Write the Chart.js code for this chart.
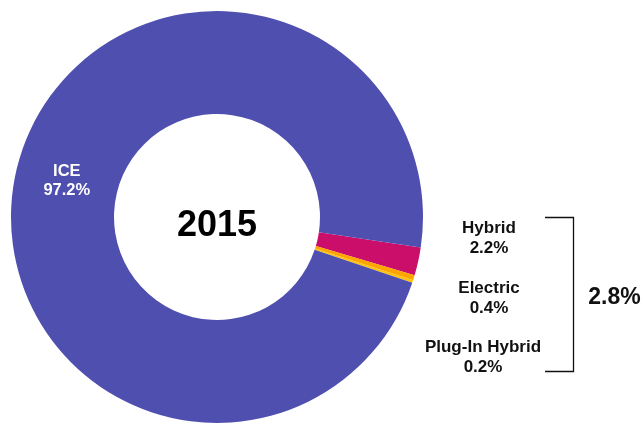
<!DOCTYPE html>
<html>
<head>
<meta charset="utf-8">
<script src="https://cdn.jsdelivr.net/npm/chart.js@4/dist/chart.umd.min.js"></script>
<style>
    html, body { margin: 0; padding: 0; background: #fff; }
    #wrap { width: 644px; height: 425px; }
</style>
</head>
<body>
<div id="wrap"><canvas id="donut" width="644" height="425"></canvas></div>
<script>
"use strict";

const categories = ["Hybrid", "Electric", "Plug-In Hybrid", "ICE"];
const shares = [2.2, 0.4, 0.2, 97.2];
const sliceColors = ["#cc0e6b", "#ffa500", "#ffc20e", "#4f4faf"];
const yearLabel = "2015";
const groupTotal = "2.8%";

function fmt(v) {
    return v.toFixed(1) + "%";
}

// draws the centre year, the slice labels and the bracket
const labelsPlugin = {
    id: "labels",
    afterDraw(chart) {
        const ctx = chart.ctx;
        const meta = chart.getDatasetMeta(0);
        ctx.save();
        ctx.textAlign = "center";
        ctx.textBaseline = "alphabetic";

        // year in the hole
        const c = meta.data[0];
        ctx.fillStyle = "#000";
        ctx.font = "bold 36px 'Liberation Sans', Arial, sans-serif";
        ctx.fillText(yearLabel, c.x, c.y + 19);

        // big slice label sits on the arc itself
        const big = meta.data[3];
        const p = big.tooltipPosition();
        ctx.fillStyle = "#fff";
        ctx.font = "bold 16.5px 'Liberation Sans', Arial, sans-serif";
        ctx.fillText(categories[3], p.x, p.y - 5);
        ctx.fillText(fmt(shares[3]), p.x, p.y + 14);

        // small slices listed to the right
        const xs = [489, 489, 483];
        const ys = [233, 292.5, 351.5];
        ctx.fillStyle = "#111";
        ctx.font = "bold 17px 'Liberation Sans', Arial, sans-serif";
        for (let i = 0; i < 3; i++) {
            ctx.fillText(categories[i], xs[i], ys[i]);
            ctx.fillText(fmt(shares[i]), xs[i], ys[i] + 20);
        }

        // bracket
        ctx.strokeStyle = "#111";
        ctx.lineWidth = 1.3;
        ctx.beginPath();
        ctx.moveTo(545, 217.5);
        ctx.lineTo(573.5, 217.5);
        ctx.lineTo(573.5, 371.5);
        ctx.lineTo(545, 371.5);
        ctx.stroke();

        ctx.fillStyle = "#111";
        ctx.font = "bold 23px 'Liberation Sans', Arial, sans-serif";
        ctx.fillText(groupTotal, 614.5, 304);
        ctx.restore();
    }
};

new Chart(document.getElementById("donut"), {
    type: "doughnut",
    data: {
        labels: categories,
        datasets: [{
            data: shares,
            backgroundColor: sliceColors,
            borderWidth: 0
        }]
    },
    options: {
        responsive: false,
        animation: false,
        rotation: 98.5,
        cutout: "50%",
        layout: {
            padding: { left: 11, top: 11, right: 221, bottom: 2 }
        },
        plugins: {
            legend: { display: false },
            tooltip: { enabled: false }
        }
    },
    plugins: [labelsPlugin]
});
</script>
</body>
</html>
